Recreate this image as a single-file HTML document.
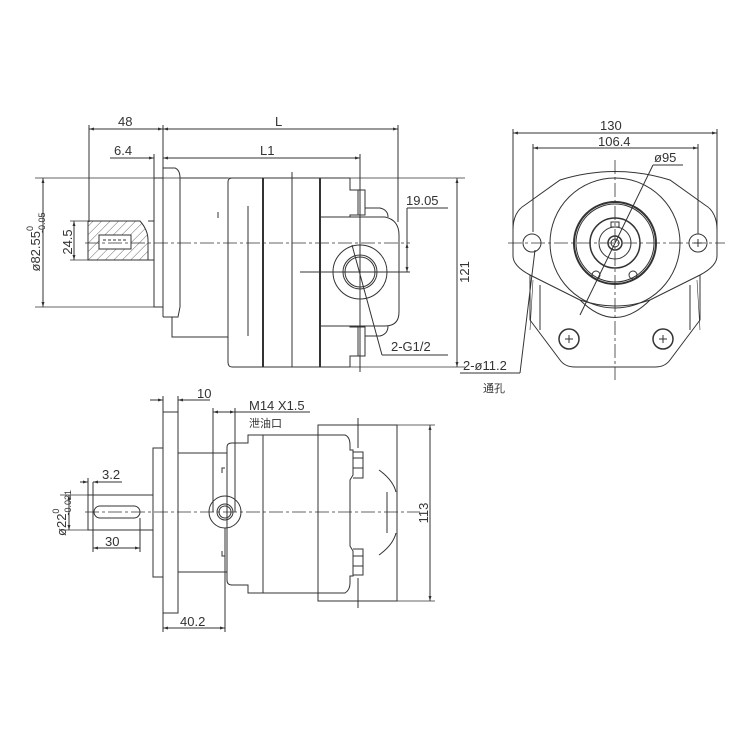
<!DOCTYPE html>
<html><head><meta charset="utf-8"><style>
html,body{margin:0;padding:0;background:#fff;}
svg{display:block}
text{font-family:"Liberation Sans","Noto Sans CJK SC",sans-serif;fill:#333;}
</style></head><body>
<svg width="750" height="750" viewBox="0 0 750 750" xmlns="http://www.w3.org/2000/svg">
<defs>
<marker id="a" viewBox="0 0 10 10" refX="10" refY="5" markerWidth="8" markerHeight="5" orient="auto-start-reverse"><path d="M0,2 L10,5 L0,8z" fill="#333"/></marker>
<pattern id="h" width="6" height="6" patternUnits="userSpaceOnUse" patternTransform="rotate(45)"><line x1="0" y1="0" x2="0" y2="6" stroke="#444" stroke-width="0.8"/></pattern>
</defs>
<g fill="none" stroke="#333" stroke-width="1">
<!-- ===== TOP VIEW ===== -->
<!-- dims -->
<line x1="89" y1="129" x2="163" y2="129" marker-start="url(#a)" marker-end="url(#a)"/>
<line x1="163" y1="129" x2="398" y2="129" marker-start="url(#a)" marker-end="url(#a)"/>
<line x1="110" y1="158" x2="154" y2="158" marker-end="url(#a)"/>
<line x1="163" y1="158" x2="360" y2="158" marker-start="url(#a)" marker-end="url(#a)"/>
<line x1="89" y1="125" x2="89" y2="222"/>
<line x1="154" y1="154" x2="154" y2="178"/>
<line x1="163" y1="125" x2="163" y2="168"/>
<line x1="398" y1="125" x2="398" y2="222"/>
<line x1="360" y1="154" x2="360" y2="372"/>
<line x1="35" y1="178" x2="465" y2="178" stroke-width="0.8"/>
<line x1="35" y1="307" x2="154" y2="307" stroke-width="0.8"/>
<line x1="330" y1="367" x2="465" y2="367" stroke-width="0.8"/>
<line x1="43" y1="178" x2="43" y2="307" marker-start="url(#a)" marker-end="url(#a)"/>
<line x1="70" y1="221" x2="88" y2="221" stroke-width="0.8"/>
<line x1="70" y1="260" x2="88" y2="260" stroke-width="0.8"/>
<line x1="74" y1="221" x2="74" y2="260" marker-start="url(#a)" marker-end="url(#a)"/>
<line x1="457" y1="178" x2="457" y2="367" marker-start="url(#a)" marker-end="url(#a)"/>
<line x1="407" y1="208" x2="448" y2="208"/>
<line x1="407" y1="208" x2="407" y2="272"/>
<line x1="407" y1="243" x2="407" y2="272" marker-start="url(#a)" marker-end="url(#a)"/>
<line x1="300" y1="272" x2="410" y2="272"/>
<!-- shaft hatched -->
<path d="M88,221 H140 Q148,230 148,240 V260 H88 Z" fill="url(#h)"/>
<rect x="99" y="235" width="32" height="14" fill="#fff"/>
<line x1="103" y1="240" x2="127" y2="240" stroke-dasharray="3 2"/>
<line x1="148" y1="221" x2="154" y2="221"/>
<line x1="148" y1="260" x2="154" y2="260"/>
<!-- pilot & flange -->
<rect x="154" y="178" width="9" height="129"/>
<path d="M163,168 H175 Q180,170 180,178 V307 L178,317 H172 V337 H228"/>
<line x1="163" y1="168" x2="163" y2="317"/>
<line x1="163" y1="317" x2="172" y2="317"/>
<line x1="180" y1="178" x2="228" y2="178"/>
<!-- main body -->
<path d="M232,178 H320 V367 H232 Q228,367 228,362 V182 Q228,178 232,178"/>
<line x1="263" y1="178" x2="263" y2="367" stroke-width="2"/>
<line x1="292" y1="172" x2="292" y2="367"/>
<line x1="320" y1="178" x2="320" y2="367" stroke-width="2"/>
<line x1="248" y1="206" x2="248" y2="336"/>
<line x1="218" y1="212" x2="218" y2="218"/>
<!-- end cover -->
<line x1="320" y1="178" x2="350" y2="178"/>
<line x1="320" y1="367" x2="350" y2="367"/>
<path d="M320,217 H385 Q399,220 399,235 V312 Q399,326 385,326 H320"/>
<path d="M350,178 V190 H358 V215 H350 V217 M358,190 H365 V215 H358"/>
<path d="M350,367 V356 H358 V327 H350 V326 M358,356 H365 V327 H358"/>
<path d="M365,208 H380 Q388,210 388,217"/>
<path d="M365,336 H380 Q388,334 388,326"/>
<circle cx="360" cy="272" r="27"/>
<circle cx="360" cy="272" r="17"/>
<circle cx="360" cy="272" r="15"/>
<line x1="352" y1="245" x2="382" y2="355"/>
<line x1="382" y1="355" x2="448" y2="355"/>
<line x1="85" y1="243" x2="410" y2="243" stroke-dasharray="14 3 3 3" stroke-width="0.8"/>
<!-- ===== RIGHT VIEW ===== -->
<line x1="513" y1="133" x2="717" y2="133" marker-start="url(#a)" marker-end="url(#a)"/>
<line x1="533" y1="148" x2="698" y2="148" marker-start="url(#a)" marker-end="url(#a)"/>
<line x1="513" y1="129" x2="513" y2="245"/>
<line x1="717" y1="129" x2="717" y2="245"/>
<line x1="533" y1="144" x2="533" y2="232"/>
<line x1="698" y1="144" x2="698" y2="234"/>
<path d="M560,180 Q615,163 670,180 L705,205 Q717,212 717,230 V256 Q717,266 700,275 L650,300 Q615,312 580,300 L530,275 Q513,266 513,256 V230 Q513,212 525,205 Z"/>
<path d="M530,275 V320 L560,360 Q565,367 575,367 H655 Q665,367 670,360 L700,320 V275"/>
<path d="M540,285 V330 M690,285 V330"/>
<path d="M580,300 Q615,335 650,300"/>
<path d="M533,280 L530,330 M697,280 L700,330" stroke-width="0.6"/>
<circle cx="615" cy="243" r="65"/>
<circle cx="615" cy="243" r="41" stroke-width="2"/>
<circle cx="615" cy="243" r="39"/>
<circle cx="615" cy="243" r="25" stroke-width="1.5"/>
<circle cx="615" cy="243" r="16"/>
<circle cx="615" cy="243" r="7" stroke-width="1.5"/>
<circle cx="615" cy="243" r="4"/>
<rect x="611" y="222" width="8" height="5"/>
<circle cx="596" cy="275" r="4"/>
<circle cx="633" cy="275" r="4"/>
<circle cx="532" cy="243" r="9"/>
<circle cx="698" cy="243" r="9"/>
<circle cx="569" cy="339" r="10" stroke-width="1.5"/>
<circle cx="663" cy="339" r="10" stroke-width="1.5"/>
<path d="M565,339 h8 M569,335 v8 M659,339 h8 M663,335 v8 M694,243 h8 M698,239 v8"/>
<line x1="508" y1="243" x2="725" y2="243" stroke-dasharray="14 3 3 3" stroke-width="0.8"/>
<line x1="615" y1="160" x2="615" y2="380" stroke-dasharray="14 3 3 3" stroke-width="0.8"/>
<line x1="653" y1="165" x2="683" y2="165"/>
<line x1="653" y1="165" x2="580" y2="315"/>
<line x1="460" y1="373" x2="520" y2="373"/>
<line x1="520" y1="373" x2="535" y2="250"/>
<!-- ===== BOTTOM VIEW ===== -->
<line x1="150" y1="400" x2="163" y2="400" marker-end="url(#a)"/>
<line x1="178" y1="400" x2="210" y2="400" marker-start="url(#a)"/>
<line x1="163" y1="396" x2="163" y2="412"/>
<line x1="178" y1="396" x2="178" y2="412"/>
<line x1="213" y1="412" x2="235" y2="412" marker-start="url(#a)" marker-end="url(#a)"/>
<line x1="235" y1="412" x2="310" y2="412"/>
<line x1="213" y1="408" x2="213" y2="512"/>
<line x1="235" y1="408" x2="235" y2="512"/>
<rect x="163" y="412" width="15" height="201"/>
<rect x="153" y="448" width="10" height="129"/>
<line x1="178" y1="453" x2="227" y2="453"/>
<line x1="178" y1="572" x2="227" y2="572"/>
<path d="M248,435 H318 V593 H248 V585 H232 Q227,585 227,580 V447 Q227,443 232,443 H248 Z"/>
<line x1="263" y1="435" x2="263" y2="593"/>
<line x1="318" y1="425" x2="318" y2="601"/>
<rect x="318" y="425" width="79" height="176"/>
<line x1="397" y1="425" x2="397" y2="601"/>
<path d="M318,435 H345 Q350,437 350,445 V450 H353 V475 L350,480 V546 L353,551 V576 H350 V583 Q350,590 345,593 H318"/>
<path d="M353,452 H363 V478 H353 M353,458 H363 M353,468 H363"/>
<path d="M353,549 H363 V575 H353 M353,556 H363 M353,566 H363"/>
<line x1="358" y1="418" x2="358" y2="448"/>
<line x1="358" y1="578" x2="358" y2="608"/>
<path d="M379,470 Q393,480 396,492"/>
<path d="M379,555 Q393,545 396,533"/>
<line x1="387" y1="492" x2="387" y2="533"/>
<path d="M222,473 v-5 h3 M222,551 v5 h3"/>
<circle cx="225" cy="512" r="16"/>
<circle cx="225" cy="512" r="8"/>
<circle cx="225" cy="512" r="6"/>
<rect x="88" y="495" width="65" height="35"/>
<rect x="94" y="506" width="46" height="12" rx="6"/>
<line x1="85" y1="512" x2="420" y2="512" stroke-dasharray="14 3 3 3" stroke-width="0.8"/>
<line x1="93" y1="482" x2="93" y2="530"/>
<line x1="60" y1="495" x2="88" y2="495" stroke-width="0.8"/>
<line x1="60" y1="530" x2="88" y2="530" stroke-width="0.8"/>
<line x1="69" y1="495" x2="69" y2="530" marker-start="url(#a)" marker-end="url(#a)"/>
<line x1="80" y1="482" x2="88" y2="482" marker-end="url(#a)"/>
<line x1="93" y1="482" x2="122" y2="482" marker-start="url(#a)"/>
<line x1="88" y1="478" x2="88" y2="495"/>
<line x1="93" y1="548" x2="140" y2="548" marker-start="url(#a)" marker-end="url(#a)"/>
<line x1="93" y1="530" x2="93" y2="552"/>
<line x1="140" y1="518" x2="140" y2="552"/>
<line x1="397" y1="425" x2="435" y2="425" stroke-width="0.8"/>
<line x1="397" y1="601" x2="435" y2="601" stroke-width="0.8"/>
<line x1="430" y1="425" x2="430" y2="601" marker-start="url(#a)" marker-end="url(#a)"/>
<line x1="163" y1="613" x2="163" y2="632"/>
<line x1="225" y1="528" x2="225" y2="632"/>
<line x1="163" y1="628" x2="225" y2="628" marker-start="url(#a)" marker-end="url(#a)"/>
</g>
<!-- texts -->
<g font-size="13">
<text x="118" y="126">48</text>
<text x="275" y="126">L</text>
<text x="114" y="155">6.4</text>
<text x="260" y="155">L1</text>
<text x="406" y="205">19.05</text>
<text x="391" y="351">2-G1/2</text>
<text transform="translate(469,272) rotate(-90)" text-anchor="middle">121</text>
<text transform="translate(72,242) rotate(-90)" text-anchor="middle">24.5</text>
<text transform="translate(40,242) rotate(-90)" text-anchor="middle">ø82.55<tspan font-size="9" dy="-7">0</tspan><tspan font-size="9" dx="-7" dy="12">-0.05</tspan></text>
<text x="600" y="130">130</text>
<text x="598" y="146">106.4</text>
<text x="654" y="162">ø95</text>
<text x="463" y="370">2-ø11.2</text>
<text x="483" y="392" font-size="11">通孔</text>
<text x="197" y="398">10</text>
<text x="249" y="410">M14 X1.5</text>
<text x="249" y="427" font-size="11">泄油口</text>
<text x="102" y="479">3.2</text>
<text x="105" y="546">30</text>
<text x="180" y="626">40.2</text>
<text transform="translate(428,513) rotate(-90)" text-anchor="middle">113</text>
<text transform="translate(66,513) rotate(-90)" text-anchor="middle">ø22<tspan font-size="9" dy="-7">0</tspan><tspan font-size="9" dx="-7" dy="12">-0.021</tspan></text>
</g>
</svg>
</body></html>
